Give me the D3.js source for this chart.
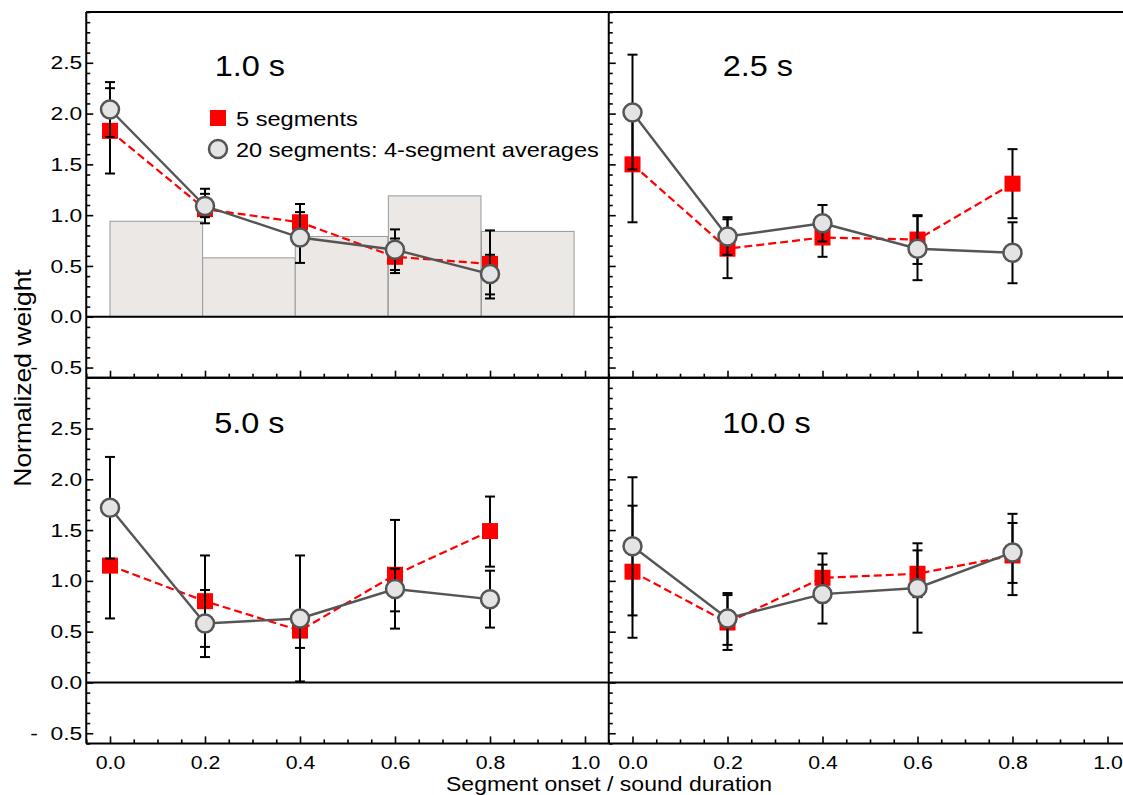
<!DOCTYPE html>
<html>
<head>
<meta charset="utf-8">
<script src="https://cdn.jsdelivr.net/npm/d3@7/dist/d3.min.js"></script>
<style>
  html, body { margin: 0; padding: 0; background: #fff; }
  svg { display: block; }
  text { font-family: "Liberation Sans", Arial, sans-serif; font-weight: normal; fill: #000; }
</style>
</head>
<body>
<svg id="chart" width="1123" height="795"></svg>
<script>
// ---- data -------------------------------------------------------------
const panelTitles = ["1.0 s", "2.5 s", "5.0 s", "10.0 s"];
const onsets = [0.0, 0.2, 0.4, 0.6, 0.8];

// 5 segments (red squares): mean, lower and upper error limits, per panel
const redMean = [
  [1.83, 1.06, 0.93, 0.59, 0.52],
  [1.50, 0.67, 0.78, 0.76, 1.31],
  [1.15, 0.80, 0.51, 1.06, 1.49],
  [1.09, 0.59, 1.03, 1.07, 1.25]
];
const redLow = [
  [1.41, 0.92, 0.75, 0.43, 0.18],
  [0.93, 0.38, 0.59, 0.52, 0.97],
  [0.63, 0.35, 0.34, 0.53, 1.14],
  [0.44, 0.32, 0.79, 0.84, 0.98]
];
const redHigh = [
  [2.25, 1.21, 1.11, 0.77, 0.85],
  [2.07, 0.96, 0.97, 1.00, 1.65],
  [1.67, 1.25, 0.68, 1.60, 1.83],
  [1.74, 0.86, 1.27, 1.30, 1.57]
];

// 20 segments, 4-segment averages (grey circles)
const grayMean = [
  [2.04, 1.09, 0.78, 0.66, 0.42],
  [2.01, 0.79, 0.92, 0.67, 0.63],
  [1.72, 0.58, 0.63, 0.92, 0.82],
  [1.34, 0.63, 0.87, 0.93, 1.28]
];
const grayLow = [
  [1.77, 0.98, 0.53, 0.46, 0.22],
  [1.45, 0.61, 0.74, 0.36, 0.33],
  [1.22, 0.25, 0.01, 0.70, 0.54],
  [0.66, 0.37, 0.58, 0.49, 0.86]
];
const grayHigh = [
  [2.31, 1.26, 1.03, 0.86, 0.61],
  [2.58, 0.98, 1.10, 0.99, 0.93],
  [2.22, 0.91, 1.25, 1.12, 1.10],
  [2.02, 0.88, 1.16, 1.37, 1.66]
];

// background histogram in the 1.0 s panel
const barStarts = [0.0, 0.195, 0.39, 0.586, 0.782];
const barWidth = 0.195;
const barHeights = [0.94, 0.58, 0.79, 1.19, 0.84];

// axis ticks and labels
const yMajorTicks = [-0.5, 0.0, 0.5, 1.0, 1.5, 2.0, 2.5];
const xMajorTicks = [0.0, 0.2, 0.4, 0.6, 0.8, 1.0];
const legendLabels = ["5 segments", "20 segments: 4-segment averages"];
const xTitle = "Segment onset / sound duration";
const yTitle = "Normalized weight";

// ---- layout -----------------------------------------------------------
const svg = d3.select("#chart");
const colX = [86.25, 608.75];
const rowY = [12, 377.7];
const panelW = 522.5, panelH = 365.7;
const xDomain = [-0.05, 1.05];
const yDomain = [-0.6, 3.0];
const SX = 1.15;                      // horizontal glyph stretch of the type
const titlePos = [[128.5, 64], [114, 64], [128, 55.5], [113.5, 55.5]];

const yMinorTicks = d3.range(-6, 31).map(d => d / 10)
  .filter(v => !yMajorTicks.some(m => Math.abs(m - v) < 1e-6));
const xMinorTicks = d3.range(0, 22).map(d => -0.05 + d * 0.05)
  .filter(v => !xMajorTicks.some(m => Math.abs(m - v) < 1e-6));

function txt(g, x, y, s, size, anchor, rot, sx) {
  return g.append("text")
    .attr("transform", `translate(${x},${y})${rot ? " rotate(-90)" : ""} scale(${sx || SX},1)`)
    .attr("text-anchor", anchor || "start")
    .style("font-size", size + "px")
    .text(s);
}

function fmtY(v) {
  const s = Math.abs(v).toFixed(1);
  return v < 0 ? "-  " + s : s;
}

function stripDomain(sel) { sel.select(".domain").remove(); }

panelTitles.forEach((title, p) => {
  const col = p % 2, row = Math.floor(p / 2);
  const x0 = colX[col], y0 = rowY[row];
  const x = d3.scaleLinear().domain(xDomain).range([x0, x0 + panelW]);
  const y = d3.scaleLinear().domain(yDomain).range([y0 + panelH, y0]);
  const g = svg.append("g");

  // histogram behind the data
  if (p === 0) {
    g.append("g").selectAll("rect").data(barHeights).join("rect")
      .attr("x", (d, i) => x(barStarts[i]))
      .attr("width", (d, i) => x(barStarts[i] + barWidth) - x(barStarts[i]))
      .attr("y", d => y(d))
      .attr("height", d => y(0) - y(d))
      .attr("fill", "#ebe8e6")
      .attr("stroke", "#9a9a9a")
      .attr("stroke-width", 1);
  }

  // zero line
  g.append("line")
    .attr("x1", x.range()[0]).attr("x2", x.range()[1])
    .attr("y1", y(0)).attr("y2", y(0))
    .attr("stroke", "#000").attr("stroke-width", 2);

  // y axis: inward ticks
  const ya = g.append("g").attr("transform", `translate(${x0},0)`);
  ya.append("g").call(d3.axisRight(y).tickValues(yMinorTicks).tickSize(4).tickFormat(""))
    .call(stripDomain);
  ya.append("g").call(d3.axisRight(y).tickValues(yMajorTicks).tickSize(7).tickFormat(""))
    .call(stripDomain);
  ya.selectAll(".tick line").attr("stroke-width", 1.6);
  if (col === 0) {
    const lab = ya.append("g")
      .call(d3.axisLeft(y).tickValues(yMajorTicks).tickSize(0).tickPadding(4).tickFormat(fmtY))
      .call(stripDomain);
    lab.selectAll("text")
      .attr("transform", "scale(1.2,1)")
      .attr("x", -4 / 1.2)
      .style("font-size", "19px")
      .style("font-family", "'Liberation Sans', Arial, sans-serif")
      .style("white-space", "pre");
  }

  // x axis at panel bottom: inward ticks
  const xa = g.append("g").attr("transform", `translate(0,${y0 + panelH})`);
  xa.append("g").call(d3.axisTop(x).tickValues(xMinorTicks).tickSize(4).tickFormat(""))
    .call(stripDomain);
  xa.append("g").call(d3.axisTop(x).tickValues(xMajorTicks).tickSize(7).tickFormat(""))
    .call(stripDomain);
  xa.selectAll(".tick line").attr("stroke-width", 1.6);
  if (row === 1) {
    const lab = xa.append("g")
      .call(d3.axisBottom(x).tickValues(xMajorTicks).tickSize(0).tickPadding(12).tickFormat(d3.format(".1f")))
      .call(stripDomain);
    lab.selectAll("text")
      .attr("transform", `scale(${SX},1)`)
      .style("font-size", "18.5px")
      .style("font-family", "'Liberation Sans', Arial, sans-serif");
  }

  // frame lines (left, top, bottom)
  const fr = g.append("g").attr("stroke", "#000").attr("stroke-width", 2);
  fr.append("line").attr("x1", x0).attr("x2", x0).attr("y1", y0).attr("y2", y0 + panelH);
  fr.append("line").attr("x1", x0).attr("x2", x0 + panelW).attr("y1", y0).attr("y2", y0);
  fr.append("line").attr("x1", x0).attr("x2", x0 + panelW).attr("y1", y0 + panelH).attr("y2", y0 + panelH);

  // error bars with end caps
  function errorBars(low, high) {
    const eb = g.append("g").attr("stroke", "#000").attr("stroke-width", 2);
    onsets.forEach((o, i) => {
      const cx = x(o);
      eb.append("line").attr("x1", cx).attr("x2", cx).attr("y1", y(low[i])).attr("y2", y(high[i]));
      [low[i], high[i]].forEach(v => {
        eb.append("line").attr("x1", cx - 5).attr("x2", cx + 5).attr("y1", y(v)).attr("y2", y(v));
      });
    });
  }

  const line = d3.line().x((d, i) => x(onsets[i])).y(d => y(d));

  // 5 segments series
  errorBars(redLow[p], redHigh[p]);
  g.append("path").datum(redMean[p]).attr("d", line)
    .attr("fill", "none").attr("stroke", "#ff0000").attr("stroke-width", 2.2)
    .attr("stroke-dasharray", "8,4");
  g.append("g").selectAll("rect").data(redMean[p]).join("rect")
    .attr("x", (d, i) => x(onsets[i]) - 8).attr("y", d => y(d) - 8)
    .attr("width", 16).attr("height", 16).attr("fill", "#ff0000");

  // 20 segments series
  errorBars(grayLow[p], grayHigh[p]);
  g.append("path").datum(grayMean[p]).attr("d", line)
    .attr("fill", "none").attr("stroke", "#555555").attr("stroke-width", 2.4);
  g.append("g").selectAll("circle").data(grayMean[p]).join("circle")
    .attr("cx", (d, i) => x(onsets[i])).attr("cy", d => y(d)).attr("r", 9)
    .attr("fill", "#e4e4e4").attr("stroke", "#555555").attr("stroke-width", 2.5);

  // panel title
  txt(g, x0 + titlePos[p][0], y0 + titlePos[p][1], title, 29.5, "start", false, 1.1);

  // legend in the first panel
  if (p === 0) {
    const lg = g.append("g");
    lg.append("rect").attr("x", 210).attr("y", 110).attr("width", 16).attr("height", 16).attr("fill", "#ff0000");
    lg.append("circle").attr("cx", 218).attr("cy", 149).attr("r", 9)
      .attr("fill", "#e4e4e4").attr("stroke", "#555555").attr("stroke-width", 2.5);
    txt(lg, 236, 126, legendLabels[0], 20.5, "start");
    txt(lg, 236, 157, legendLabels[1], 20.5, "start");
  }
});

// axis titles
txt(svg, 609, 790.5, xTitle, 20, "middle");
txt(svg, 31, 378, yTitle, 23, "middle", true);
</script>
</body>
</html>
